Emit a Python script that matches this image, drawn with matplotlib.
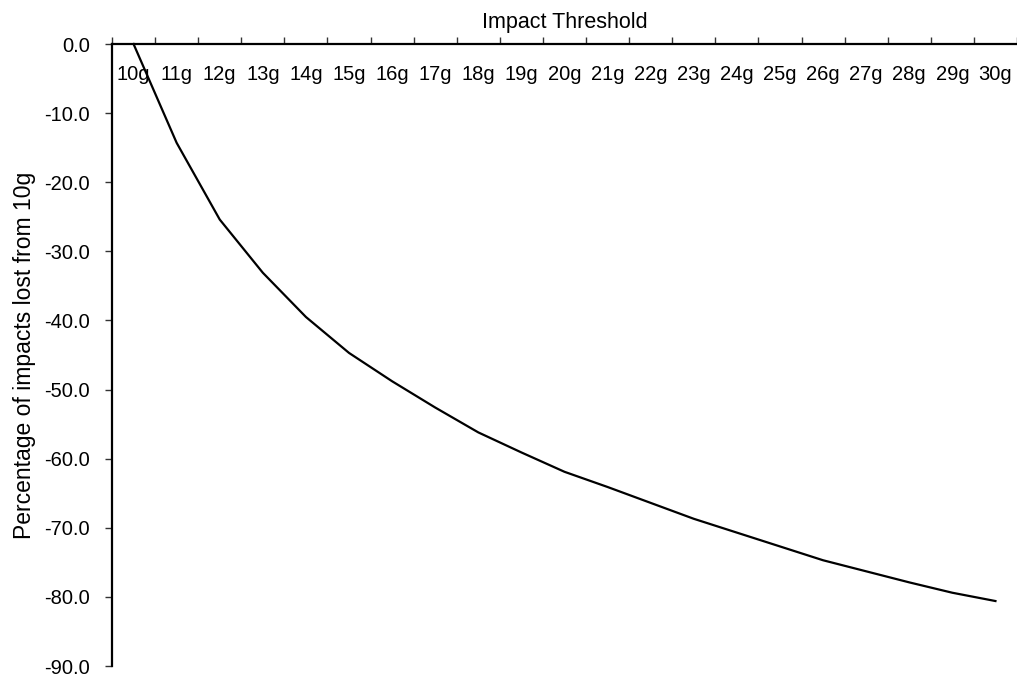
import matplotlib.pyplot as plt
import numpy as np

# impact thresholds and % of impacts lost relative to 10g
thresholds = ['10g', '11g', '12g', '13g', '14g', '15g', '16g', '17g', '18g', '19g', '20g',
              '21g', '22g', '23g', '24g', '25g', '26g', '27g', '28g', '29g', '30g']
pct_lost = [0.0, -14.3, -25.4, -33.1, -39.5, -44.7, -48.8, -52.6, -56.2, -59.1, -61.9,
            -64.1, -66.4, -68.7, -70.7, -72.7, -74.7, -76.3, -77.9, -79.4, -80.6]

plt.rcParams['font.family'] = ['Liberation Sans', 'DejaVu Sans']
plt.rcParams['font.size'] = 14.5

fig = plt.figure(figsize=(10.17, 6.83), dpi=100)
ax = fig.add_axes([112 / 1017, 17 / 683, 905 / 1017, 622 / 683])

x = np.arange(len(thresholds))
ax.plot(x, pct_lost, color='black', lw=1.6, clip_on=False, solid_joinstyle='round')

ax.set_xlim(-0.5, len(thresholds) - 0.5)
ax.set_ylim(-90, 0)

# x axis sits on top (at 0), labels hang below the line
ax.xaxis.tick_top()
ax.set_xticks(x)
ax.set_xticklabels(thresholds)
ax.set_xticks(np.arange(len(thresholds) + 1) - 0.5, minor=True)
ax.tick_params(axis='x', which='major', length=0, pad=-29, labeltop=True, labelbottom=False)
ax.tick_params(axis='x', which='minor', length=5, width=1, color='#333333', direction='out', top=True, bottom=False)
ax.xaxis.set_label_position('top')
ax.set_xlabel('Impact Threshold', fontsize=15.5, labelpad=3)

ax.set_yticks(np.arange(-90, 1, 10))
ax.set_yticklabels(['%.1f' % v for v in np.arange(-90, 1, 10)])
ax.tick_params(axis='y', length=5, width=1, color='#333333', direction='out', pad=11)
ax.set_ylabel('Percentage of impacts lost from 10g', fontsize=16.5, labelpad=6)

for s in ['right', 'bottom']:
    ax.spines[s].set_visible(False)
for s in ['top', 'left']:
    ax.spines[s].set_linewidth(1.6)

fig.savefig('out.png', dpi=100)
